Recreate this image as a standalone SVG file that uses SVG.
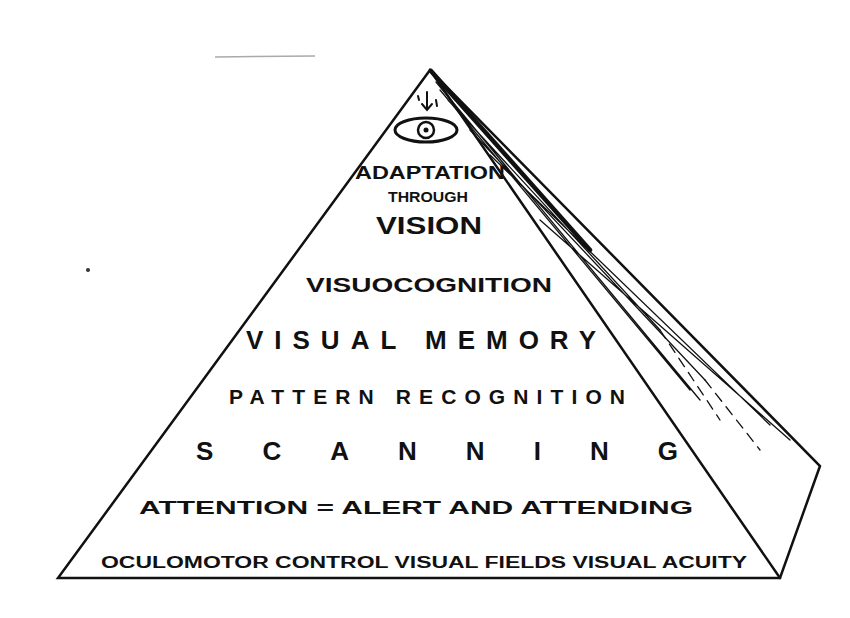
<svg xmlns="http://www.w3.org/2000/svg" width="850" height="618" viewBox="0 0 850 618">
<style>
.t{font-family:"Liberation Sans",Arial,sans-serif;font-weight:bold;fill:#111;text-anchor:middle}
.e{fill:none;stroke:#111;stroke-linecap:round}
</style>
<rect width="850" height="618" fill="#fff"/>
<line x1="215" y1="57" x2="315" y2="56" stroke="#aaa" stroke-width="1.5"/>
<circle cx="88" cy="270" r="2" fill="#333"/>
<g id="pyramid">
<path class="e" stroke-width="2.5" d="M430,70 L58,578 L780,578 L820,466 Z"/>
<path class="e" stroke-width="2.5" d="M430,70 L780,578"/>
<path class="e" stroke-width="4.5" d="M431,71 L590,250"/>
<path class="e" stroke-width="1.3" d="M436,82 L700,400 M440,90 L690,390 M448,100 L660,330 M470,130 L705,380 M490,155 L770,425 M540,220 L790,440"/>
<path class="e" stroke-width="1.3" stroke-dasharray="10 7" d="M660,330 L720,420 M705,380 L760,450"/>
</g>
<g id="eye">
<ellipse class="e" cx="426" cy="130" rx="31" ry="12" stroke-width="3"/>
<circle class="e" cx="426" cy="130" r="8" stroke-width="2.5"/>
<circle cx="426" cy="130" r="2.5" fill="#111"/>
<path class="e" stroke-width="2" d="M427,92 L427,110 M422,104 L427,110 L432,104 M418,96 L419,100 M436,100 L437,106"/>
</g>
<g id="labels">
<text class="t" x="430" y="179" font-size="18" textLength="150" lengthAdjust="spacingAndGlyphs">ADAPTATION</text>
<text class="t" x="428" y="202" font-size="14" textLength="80" lengthAdjust="spacingAndGlyphs">THROUGH</text>
<text class="t" x="429" y="234" font-size="23" textLength="106" lengthAdjust="spacingAndGlyphs">VISION</text>
<text class="t" x="429" y="292" font-size="21" textLength="246" lengthAdjust="spacingAndGlyphs">VISUOCOGNITION</text>
<text class="t" x="421" y="349" font-size="26" textLength="350" lengthAdjust="spacing">VISUAL MEMORY</text>
<text class="t" x="427" y="404" font-size="21" textLength="396" lengthAdjust="spacing">PATTERN RECOGNITION</text>
<text class="t" x="437" y="460" font-size="26" textLength="482" lengthAdjust="spacing">SCANNING</text>
<text class="t" x="416" y="514" font-size="18" textLength="554" lengthAdjust="spacingAndGlyphs">ATTENTION  =   ALERT  AND ATTENDING</text>
<text class="t" x="424" y="568" font-size="16" textLength="646" lengthAdjust="spacingAndGlyphs">OCULOMOTOR CONTROL  VISUAL FIELDS  VISUAL ACUITY</text>
</g>
</svg>
